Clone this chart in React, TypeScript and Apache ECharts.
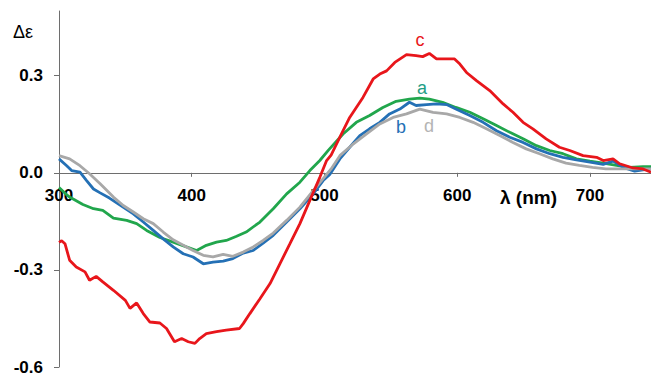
import React, { useEffect, useRef } from "react";
import * as echarts from "echarts";

// Wavelength (nm), Δε
const seriesA: number[][] = [[300,-0.045],[305,-0.065],[308,-0.075],[318,-0.098],[326,-0.111],[333,-0.116],[341,-0.140],[351,-0.147],[358.5,-0.157],[366,-0.178],[376,-0.200],[386,-0.214],[396,-0.229],[403.7,-0.240],[411,-0.224],[418.7,-0.214],[426,-0.209],[433.8,-0.196],[441,-0.183],[451.4,-0.152],[461.4,-0.111],[471.5,-0.065],[481.5,-0.029],[489,0.007],[496.5,0.038],[503,0.070],[514,0.120],[524,0.156],[534,0.177],[544,0.202],[554,0.221],[564,0.228],[571.8,0.231],[579,0.228],[589,0.218],[599,0.202],[609.5,0.187],[619.5,0.167],[629.6,0.146],[639.6,0.125],[649.6,0.105],[659.7,0.084],[669.7,0.069],[679.7,0.059],[689.8,0.043],[700,0.036],[710,0.030],[720,0.023],[730,0.017],[740,0.019],[746,0.019]];

const seriesB: number[][] = [[300,0.043],[305.8,0.022],[309.5,0.007],[315.8,0.002],[320.8,-0.024],[326,-0.050],[331,-0.062],[338,-0.078],[346,-0.100],[356,-0.127],[363.5,-0.152],[371,-0.178],[378.5,-0.204],[386,-0.229],[393.6,-0.250],[401,-0.260],[408.7,-0.281],[416,-0.276],[423.7,-0.273],[431,-0.265],[438.8,-0.248],[446.3,-0.240],[453.8,-0.217],[461.4,-0.193],[471.5,-0.152],[481.5,-0.111],[491.5,-0.065],[499,-0.024],[504,-0.005],[511.6,0.043],[519,0.079],[526.6,0.115],[534,0.136],[541.7,0.156],[549,0.182],[556.8,0.197],[564,0.218],[569,0.208],[577,0.211],[584.4,0.213],[592,0.211],[599,0.197],[609.5,0.177],[619.5,0.156],[629.6,0.130],[639.6,0.110],[649.6,0.094],[659.7,0.074],[669.7,0.059],[679.7,0.048],[689.8,0.040],[700,0.033],[710,0.026],[717.4,0.036],[725,0.017],[733.7,0.005],[740,0.009],[746,0.012]];

const seriesC: number[][] = [[300,-0.215],[302,-0.210],[304.5,-0.219],[308,-0.270],[313,-0.291],[319.6,-0.306],[323,-0.332],[328,-0.320],[333,-0.337],[341,-0.363],[350,-0.394],[353.5,-0.419],[358.5,-0.402],[363.5,-0.435],[368.5,-0.461],[376,-0.464],[381,-0.481],[387,-0.522],[392.4,-0.512],[397.4,-0.522],[402.4,-0.527],[406,-0.512],[411,-0.497],[418.7,-0.491],[426,-0.486],[436,-0.481],[438.8,-0.466],[443.8,-0.435],[451.4,-0.389],[459,-0.342],[466.4,-0.281],[474,-0.219],[481.5,-0.157],[489,-0.085],[496.5,-0.014],[501.6,0.038],[505,0.055],[511.6,0.110],[519,0.171],[529,0.233],[536.7,0.290],[541.7,0.305],[546.8,0.315],[553,0.341],[561.8,0.365],[569,0.362],[574,0.359],[579,0.369],[584.4,0.352],[592,0.352],[598,0.352],[602,0.336],[607,0.310],[614.5,0.285],[624.5,0.254],[634.6,0.213],[642,0.187],[649.6,0.156],[657,0.136],[667,0.105],[677,0.079],[684.8,0.069],[694.8,0.053],[705,0.048],[710,0.038],[717.4,0.043],[722.4,0.028],[732.5,0.015],[740,0.012],[746,0.002]];

const seriesD: number[][] = [[300,0.053],[308,0.043],[315.8,0.022],[323,-0.003],[331,-0.034],[341,-0.075],[348.4,-0.101],[356,-0.121],[363.5,-0.142],[371,-0.157],[378.5,-0.183],[386,-0.207],[393.6,-0.224],[401,-0.240],[408.7,-0.255],[416,-0.260],[423.7,-0.252],[431,-0.258],[438.8,-0.245],[446.3,-0.229],[453.8,-0.209],[461.4,-0.186],[471.5,-0.147],[481.5,-0.106],[491.5,-0.055],[499,-0.018],[505,0.012],[511.6,0.053],[521.6,0.089],[531.7,0.120],[541.7,0.151],[551.7,0.171],[561.8,0.182],[571.8,0.197],[581.8,0.187],[592,0.182],[602,0.171],[612,0.156],[622,0.136],[632,0.115],[642,0.094],[652,0.074],[662,0.059],[672,0.043],[682,0.030],[692,0.023],[702,0.017],[712,0.012],[722.4,0.012],[732.5,0.012],[746,0.012]];

const seriesNames = ["a", "b", "c", "d"];
const xMin = 300;
const xMax = 746;
const xInterval = 100;
const yMin = -0.6;
const yMax = 0.5;
const yInterval = 0.3;

const COLORS = { a: "#21a64c", b: "#2470b5", c: "#e8161b", d: "#a8a8a8" };
const FONT = "'Liberation Sans', Arial, sans-serif";

const W = 651;
const H = 374;
const GRID = { left: 59, right: 0, top: 11, bottom: 7 };

export default function App() {
  const ref = useRef<HTMLDivElement>(null);
  useEffect(() => {
    if (!ref.current) return;
    const chart = echarts.init(ref.current, undefined, { renderer: "svg" });
    const gridH = H - GRID.top - GRID.bottom;
    const zeroOffset = -(gridH * (0 - yMin)) / (yMax - yMin);
    const line = (name: string, data: number[][], color: string) => ({
      name,
      type: "line",
      data,
      showSymbol: false,
      symbol: "none",
      smooth: false,
      lineStyle: { color, width: 2.8 },
      z: 3,
    });
    chart.setOption({
      animation: false,
      backgroundColor: "#ffffff",
      grid: { ...GRID, outerBoundsMode: "none", containLabel: false },
      xAxis: {
        type: "value",
        position: "bottom",
        offset: zeroOffset,
        min: xMin,
        max: xMax,
        interval: xInterval,
        axisLine: { show: true, onZero: false, lineStyle: { color: "#6e6e6e", width: 1 } },
        axisTick: { show: true, length: 4, lineStyle: { color: "#6e6e6e" } },
        splitLine: { show: false },
        axisLabel: {
          showMaxLabel: false,
          margin: 14,
          color: "#000",
          fontSize: 17,
          fontWeight: "bold",
          fontFamily: FONT,
        },
      },
      yAxis: {
        type: "value",
        min: yMin,
        max: yMax,
        interval: yInterval,
        axisLine: { show: true, onZero: false, lineStyle: { color: "#6e6e6e", width: 1 } },
        axisTick: { show: true, length: 5, lineStyle: { color: "#6e6e6e" } },
        splitLine: { show: false },
        axisLabel: {
          showMaxLabel: false,
          margin: 16,
          color: "#000",
          fontSize: 17,
          fontWeight: "bold",
          fontFamily: FONT,
          formatter: (v: number) => v.toFixed(1),
        },
      },
      series: [
        line(seriesNames[0], seriesA, COLORS.a),
        line(seriesNames[1], seriesB, COLORS.b),
        line(seriesNames[3], seriesD, COLORS.d),
        line(seriesNames[2], seriesC, COLORS.c),
      ],
      graphic: [
        { type: "text", x: 13, y: 32, style: { text: "Δε", fill: "#000", font: `18px ${FONT}`, align: "left", verticalAlign: "middle" } },
        { type: "text", x: 500, y: 197, style: { text: "λ (nm)", fill: "#000", font: `bold 19px ${FONT}`, align: "left", verticalAlign: "middle" } },
        { type: "text", x: 420, y: 40, style: { text: "c", fill: COLORS.c, font: `18px ${FONT}`, align: "center", verticalAlign: "middle" } },
        { type: "text", x: 422, y: 88, style: { text: "a", fill: "#1f9e86", font: `18px ${FONT}`, align: "center", verticalAlign: "middle" } },
        { type: "text", x: 401, y: 127, style: { text: "b", fill: COLORS.b, font: `18px ${FONT}`, align: "center", verticalAlign: "middle" } },
        { type: "text", x: 429, y: 126, style: { text: "d", fill: "#b4b4b4", font: `18px ${FONT}`, align: "center", verticalAlign: "middle" } },
      ],
    });
    return () => chart.dispose();
  }, []);
  return <div ref={ref} style={{ position: "fixed", left: 0, top: 0, width: W, height: H }} />;
}
